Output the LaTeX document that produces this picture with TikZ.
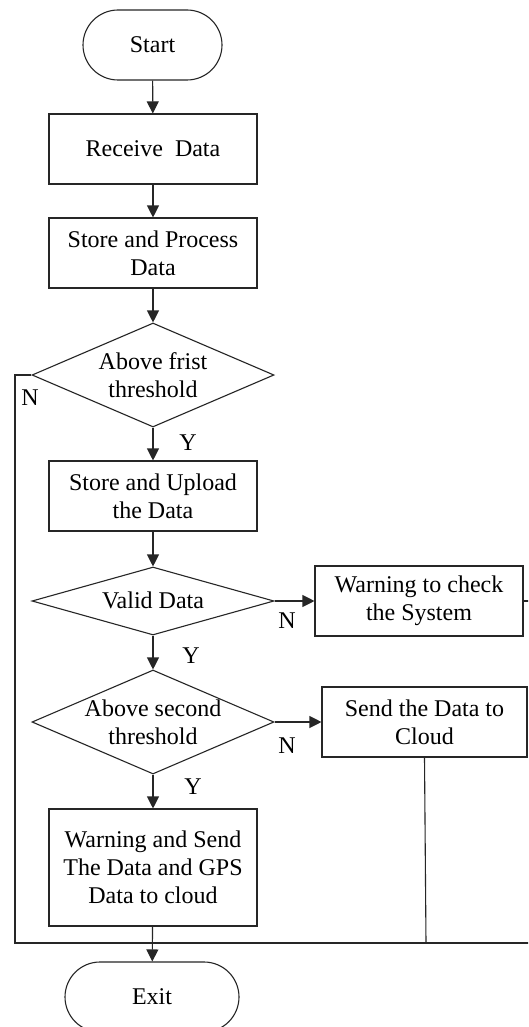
\documentclass[tikz,border=0pt]{standalone}
\usepackage{fontspec}
\setmainfont{Liberation Serif}
\usetikzlibrary{arrows.meta,shapes.geometric}
\begin{document}
\begin{tikzpicture}[x=1pt,y=-1pt,
  every node/.style={font=\fontsize{24}{28}\selectfont},
  ln/.style={line width=1.1pt, draw=black!85},
  arr/.style={ln, -{Triangle[length=12pt,width=12pt]}},
  proc/.style={ln, draw, rectangle, minimum width=208pt, minimum height=70pt, inner sep=0pt, align=center},
  term/.style={ln, draw, rectangle, rounded corners=35pt, minimum height=70pt, inner sep=0pt},
  dec/.style={ln, draw, diamond, minimum width=242pt, minimum height=104pt, inner sep=0pt},
  txt/.style={align=center, inner sep=0pt},
  lab/.style={inner sep=0pt}]
\useasboundingbox (0,0) rectangle (528,1027);
\clip (0,0) rectangle (528,1027);
\fill[white] (0,0) rectangle (528,1027);

\node[term, minimum width=139pt] (start) at (152.5,45) {Start};
\node[proc] (recv) at (153,149) {Receive\ \ Data};
\node[proc] (store) at (153,253) {Store and Process\\Data};
\node[dec] (d1) at (153,375) {};
\node[txt] (d1t) at (153,375) {Above frist\\threshold};
\node[proc] (upl) at (153,496) {Store and Upload\\the Data};
\node[dec, minimum height=68pt] (d2) at (153,601) {};
\node[txt] (d2t) at (153,600) {Valid Data};
\node[proc] (warn) at (419,601) {Warning to check\\the System};
\node[dec] (d3) at (153,722) {};
\node[txt] (d3t) at (153,722) {Above second\\threshold};
\node[proc, minimum width=205pt] (send) at (424.5,722) {Send the Data to\\Cloud};
\node[proc, minimum height=117pt] (ws) at (153,867.5) {Warning and Send\\The Data and GPS\\Data to cloud};
\node[term, minimum width=174pt] (exit) at (152,997) {Exit};

\node[lab] (n1) at (30,398) {N};
\node[lab] (y1) at (188,443) {Y};
\node[lab] (n2) at (287,621) {N};
\node[lab] (y2) at (191,656) {Y};
\node[lab] (n3) at (287,746) {N};
\node[lab] (y3) at (193,787) {Y};

\coordinate (c1) at (15,375);
\coordinate (c2) at (15,943);
\coordinate (c3) at (426,943);
\coordinate (c4) at (545,943);
\coordinate (c5) at (545,601);
\coordinate (m) at (153,943);

\draw[arr] (start) -- (recv);
\draw[arr] (recv) -- (store);
\draw[arr] (store) -- (d1);
\draw[arr] (d1) -- (upl);
\draw[arr] (upl) -- (d2);
\draw[arr] (d2.east) -- (warn.west);
\draw[arr] (d2) -- (d3);
\draw[arr] (d3.east) -- (send.west);
\draw[arr] (d3) -- (ws);
\draw[arr] (ws) -- (exit);
\draw[ln] (d1.west) -- (c1) -- (c2) -- (c4);
\draw[ln] (send.south) -- (c3);
\draw[ln] (warn.east) -- (c5);
\end{tikzpicture}
\end{document}
